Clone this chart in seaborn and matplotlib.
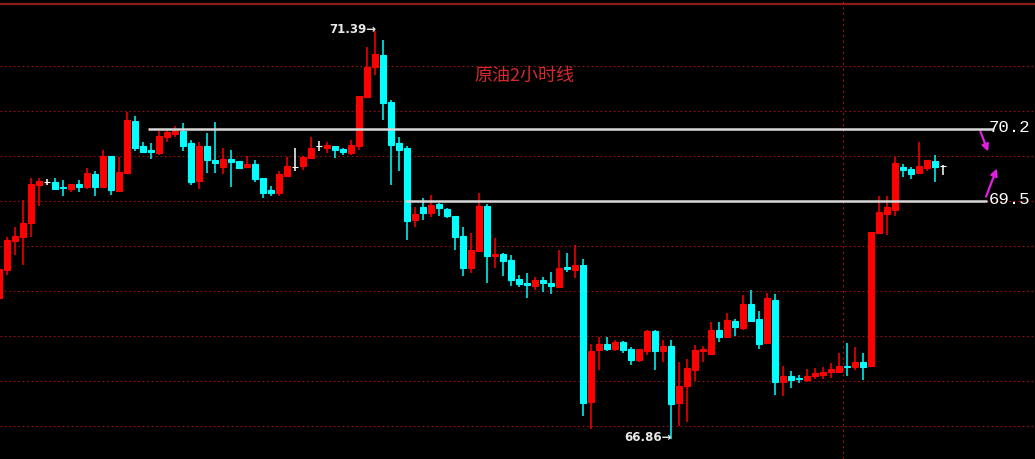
import numpy as np
import pandas as pd
import matplotlib
matplotlib.use("Agg")
import matplotlib.pyplot as plt
import seaborn as sns

# 2-hour crude oil candles
opens = [68.42, 68.73, 69.06, 69.10, 69.26, 69.68, 69.71, 69.71, 69.66, 69.63,
         69.69, 69.65, 69.80, 69.66, 70.00, 69.61, 69.81, 70.39, 70.11, 70.07,
         70.03, 70.21, 70.24, 70.28, 70.14, 69.72, 70.11, 69.96, 69.88, 69.97,
         69.94, 69.88, 69.91, 69.76, 69.62, 69.59, 69.78, 69.88, 69.89, 69.98,
         70.11, 70.09, 70.11, 70.08, 70.03, 70.11, 70.66, 70.99, 71.12, 70.60,
         70.14, 70.09, 69.29, 69.43, 69.37, 69.47, 69.41, 69.33, 69.11, 68.75,
         68.94, 69.44, 68.89, 68.91, 68.84, 68.63, 68.59, 68.56, 68.62, 68.59,
         68.54, 68.77, 68.73, 68.79, 67.27, 67.84, 67.91, 67.86, 67.93, 67.85,
         67.73, 67.83, 68.05, 67.83, 67.89, 67.26, 67.44, 67.62, 67.83, 67.80,
         68.07, 67.99, 68.17, 68.09, 68.36, 68.19, 67.92, 68.40, 67.49, 67.55,
         67.53, 67.51, 67.56, 67.57, 67.60, 67.60, 67.67, 67.66, 67.71, 67.67,
         69.14, 69.36, 69.40, 69.88, 69.85, 69.81, 69.87, 69.94, 69.89]
closes = [68.74, 69.07, 69.11, 69.26, 69.69, 69.72, 69.71, 69.63, 69.64, 69.69,
          69.66, 69.81, 69.66, 70.00, 69.62, 69.82, 70.40, 70.09, 70.04, 70.04,
          70.22, 70.27, 70.28, 70.11, 69.71, 70.11, 69.95, 69.92, 69.97, 69.93,
          69.87, 69.91, 69.74, 69.59, 69.59, 69.80, 69.89, 69.88, 69.99, 70.09,
          70.11, 70.12, 70.07, 70.04, 70.12, 70.67, 70.99, 71.13, 70.59, 70.12,
          70.07, 69.28, 69.36, 69.37, 69.46, 69.42, 69.33, 69.10, 68.75, 68.95,
          69.44, 68.89, 68.91, 68.83, 68.62, 68.58, 68.57, 68.62, 68.59, 68.55,
          68.75, 68.74, 68.79, 67.26, 67.83, 67.91, 67.86, 67.93, 67.84, 67.73,
          67.85, 68.05, 67.83, 67.89, 67.24, 67.44, 67.64, 67.84, 67.85, 68.07,
          67.99, 68.18, 68.10, 68.36, 68.17, 67.91, 68.42, 67.49, 67.56, 67.51,
          67.52, 67.56, 67.59, 67.60, 67.63, 67.67, 67.65, 67.71, 67.66, 69.15,
          69.38, 69.43, 69.92, 69.84, 69.80, 69.89, 69.96, 69.88, 69.89]
highs = [68.76, 69.10, 69.21, 69.51, 69.76, 69.76, 69.74, 69.76, 69.73, 69.69,
         69.73, 69.87, 69.83, 70.07, 70.00, 69.99, 70.49, 70.44, 70.16, 70.14,
         70.28, 70.29, 70.33, 70.37, 70.18, 70.15, 70.25, 70.38, 70.09, 70.07,
         69.94, 70.00, 69.95, 69.76, 69.67, 69.83, 69.99, 70.09, 70.00, 70.21,
         70.17, 70.16, 70.11, 70.09, 70.18, 70.67, 71.21, 71.39, 71.29, 70.62,
         70.21, 70.11, 69.43, 69.53, 69.57, 69.48, 69.42, 69.33, 69.21, 69.14,
         69.59, 69.47, 69.09, 68.92, 68.90, 68.68, 68.70, 68.65, 68.66, 68.71,
         68.96, 68.92, 69.01, 68.86, 67.91, 67.99, 67.99, 67.96, 67.94, 67.88,
         67.86, 68.07, 68.07, 67.96, 67.96, 67.71, 67.74, 67.90, 67.89, 68.16,
         68.15, 68.26, 68.19, 68.46, 68.51, 68.28, 68.48, 68.47, 67.67, 67.61,
         67.57, 67.63, 67.64, 67.65, 67.70, 67.81, 67.92, 67.88, 67.81, 69.15,
         69.55, 69.55, 69.99, 69.91, 69.88, 70.15, 69.96, 70.01, 69.90]
lows = [68.40, 68.68, 68.90, 68.79, 69.10, 69.44, 69.68, 69.63, 69.56, 69.60,
        69.60, 69.63, 69.55, 69.66, 69.57, 69.61, 69.81, 70.06, 70.03, 69.97,
        70.01, 70.16, 70.21, 70.06, 69.68, 69.63, 69.81, 69.81, 69.80, 69.65,
        69.87, 69.87, 69.71, 69.53, 69.56, 69.56, 69.77, 69.83, 69.84, 69.98,
        70.06, 70.03, 69.98, 70.01, 70.01, 70.07, 70.64, 70.90, 70.40, 69.68,
        69.83, 69.07, 69.21, 69.29, 69.32, 69.33, 69.31, 68.96, 68.67, 68.70,
        68.94, 68.59, 68.76, 68.67, 68.55, 68.54, 68.42, 68.51, 68.49, 68.47,
        68.54, 68.71, 68.64, 67.11, 66.97, 67.62, 67.83, 67.83, 67.81, 67.68,
        67.71, 67.79, 67.62, 67.71, 66.86, 67.00, 67.04, 67.50, 67.71, 67.80,
        67.93, 67.99, 68.00, 68.07, 68.16, 67.86, 67.92, 67.34, 67.33, 67.42,
        67.48, 67.49, 67.52, 67.52, 67.53, 67.59, 67.55, 67.62, 67.51, 67.67,
        69.14, 69.12, 69.33, 69.77, 69.74, 69.81, 69.83, 69.71, 69.79]

# drawn resistance / support lines and their labels
level_prices = [70.30, 69.50]
level_starts = [18.7, 50.8]
level_ends = [124.3, 123.5]
level_labels = ["70.2", "69.5"]

title_text = "原油2小时线"

df = pd.DataFrame({"open": opens, "high": highs, "low": lows, "close": closes})
df["idx"] = np.arange(len(df))

def candle_color(o, c):
    if c > o:
        return "#ff0000"
    if c < o:
        return "#00ffff"
    return "#ffffff"

df["color"] = [candle_color(o, c) for o, c in zip(df["open"], df["close"])]

sns.set_theme(style="dark", rc={"axes.facecolor": "black", "figure.facecolor": "black"})
plt.rcParams["font.family"] = ["Noto Sans CJK SC", "DejaVu Sans"]

fig = plt.figure(figsize=(10.35, 4.59), dpi=100)
ax = fig.add_axes([0, 0, 1, 1])
ax.set_facecolor("black")

# dotted grid at half-dollar levels
for lv in np.arange(67.0, 71.1, 0.5):
    ax.axhline(lv, color="#a01010", linestyle=(0, (1.5, 2.5)), linewidth=0.8, zorder=1)
ax.axvline(105.6, color="#a01010", linestyle=(0, (2, 3)), linewidth=0.8, zorder=1)
ax.axhline(71.685, color="#8c1c1c", linewidth=1.6, zorder=1)

# wicks
ax.vlines(df["idx"], df["low"], df["high"], colors=df["color"], linewidth=1.1, zorder=2)
# bodies
bottoms = np.minimum(df["open"], df["close"])
heights = np.abs(df["close"] - df["open"])
ax.bar(df["idx"], heights, bottom=bottoms, width=0.75, color=df["color"],
       edgecolor=df["color"], linewidth=0.8, zorder=3)

# horizontal levels
for p, s, e, lab in zip(level_prices, level_starts, level_ends, level_labels):
    ax.hlines(p, s, e, color="#d8d8d8", linewidth=1.8, zorder=4)
    ax.text(123.8, p + 0.02, lab, color="white", fontsize=12.5,
            family=["Liberation Mono"], ha="left", va="center", zorder=5)

# magenta arrows
ax.annotate("", xy=(123.8, 70.02), xytext=(122.6, 70.30),
            arrowprops=dict(arrowstyle="-|>", color="#e020e0", lw=1.6, mutation_scale=10))
ax.annotate("", xy=(124.9, 69.89), xytext=(123.3, 69.52),
            arrowprops=dict(arrowstyle="-|>", color="#e020e0", lw=1.6, mutation_scale=10))

# high / low marks
hi = df["high"].idxmax()
lo = df["low"].idxmin()
ax.text(hi + 0.15, df["high"][hi] + 0.01, f"{df['high'][hi]:.2f}→", color="#e8e8e8",
        fontsize=8.5, fontweight="bold", family=["DejaVu Sans"], ha="right", va="center")
ax.text(lo + 0.15, df["low"][lo] + 0.01, f"{df['low'][lo]:.2f}→", color="#e8e8e8",
        fontsize=8.5, fontweight="bold", family=["DejaVu Sans"], ha="right", va="center")

ax.text(65.7, 70.89, title_text, color="#d42a2a", fontsize=13, ha="center", va="center")

ax.set_xlim(0.16, 129.54)
ax.set_ylim(66.633, 71.733)
ax.set_xticks([])
ax.set_yticks([])
for sp in ax.spines.values():
    sp.set_visible(False)
ax.grid(False)

fig.savefig("out.png", dpi=100, facecolor="black")
